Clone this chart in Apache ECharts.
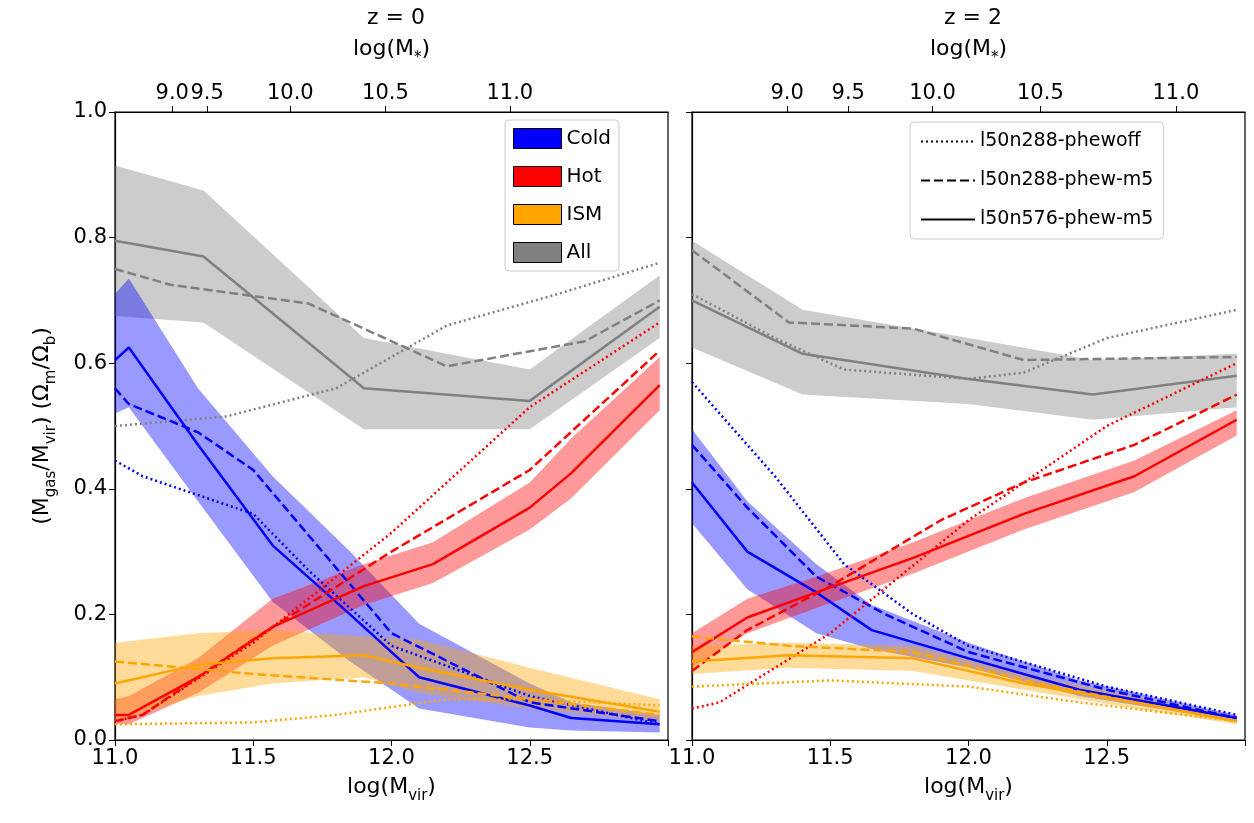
<!DOCTYPE html>
<html>
<head><meta charset="utf-8">
<script src="https://cdn.jsdelivr.net/npm/echarts@6/dist/echarts.min.js"></script>
<style>body{margin:0;background:#fff}#main{width:1254px;height:823px}</style>
</head>
<body>
<div id="main"></div>
<script>
// ---- z = 0 panel ----
var z0_allX = [11.0, 11.32, 11.9, 12.5, 12.97];
var z0_allMid = [0.795, 0.77, 0.56, 0.54, 0.69];
var z0_allLo = [0.675, 0.665, 0.495, 0.495, 0.64];
var z0_allHi = [0.915, 0.875, 0.64, 0.59, 0.74];
var z0_allDash = [[11.0,0.75],[11.2,0.725],[11.7,0.695],[12.2,0.595],[12.7,0.635],[12.97,0.70]];
var z0_allDot = [[11.0,0.50],[11.4,0.515],[11.8,0.56],[12.2,0.66],[12.6,0.71],[12.97,0.76]];

var z0_coldX = [11.0, 11.05, 11.3, 11.57, 11.85, 12.1, 12.5, 12.65, 12.97];
var z0_coldMid = [0.605, 0.625, 0.47, 0.31, 0.20, 0.10, 0.055, 0.035, 0.025];
var z0_coldLo = [0.52, 0.53, 0.38, 0.22, 0.125, 0.05, 0.02, 0.015, 0.012];
var z0_coldHi = [0.71, 0.735, 0.56, 0.42, 0.30, 0.185, 0.09, 0.06, 0.04];
var z0_coldDash = [[11.0,0.56],[11.05,0.535],[11.3,0.49],[11.5,0.43],[12.0,0.17],[12.5,0.06],[12.97,0.03]];
var z0_coldDot = [[11.0,0.445],[11.1,0.42],[11.5,0.36],[11.7,0.27],[12.0,0.15],[12.5,0.07],[12.97,0.025]];

var z0_hotX = [11.0, 11.05, 11.3, 11.57, 11.9, 12.15, 12.5, 12.65, 12.97];
var z0_hotMid = [0.04, 0.04, 0.10, 0.18, 0.245, 0.28, 0.37, 0.425, 0.565];
var z0_hotLo = [0.025, 0.025, 0.075, 0.15, 0.215, 0.25, 0.335, 0.385, 0.525];
var z0_hotHi = [0.065, 0.07, 0.13, 0.225, 0.28, 0.315, 0.41, 0.48, 0.61];
var z0_hotDash = [[11.0,0.03],[11.1,0.04],[11.5,0.16],[12.0,0.30],[12.5,0.43],[12.97,0.62]];
var z0_hotDot = [[11.0,0.03],[11.1,0.04],[11.5,0.155],[12.0,0.33],[12.5,0.53],[12.97,0.665]];

var z0_ismX = [11.0, 11.3, 11.57, 11.9, 12.1, 12.5, 12.97];
var z0_ismMid = [0.09, 0.12, 0.13, 0.135, 0.115, 0.08, 0.045];
var z0_ismLo = [0.03, 0.07, 0.09, 0.10, 0.075, 0.05, 0.03];
var z0_ismHi = [0.155, 0.17, 0.175, 0.165, 0.16, 0.115, 0.065];
var z0_ismDash = [[11.0,0.125],[11.5,0.105],[12.0,0.09],[12.5,0.065],[12.97,0.04]];
var z0_ismDot = [[11.0,0.025],[11.5,0.028],[11.8,0.04],[12.2,0.065],[12.5,0.065],[12.97,0.055]];

// ---- z = 2 panel ----
var z2_allX = [11.0, 11.4, 12.0, 12.45, 12.97];
var z2_allMid = [0.70, 0.615, 0.575, 0.55, 0.58];
var z2_allLo = [0.625, 0.55, 0.535, 0.51, 0.53];
var z2_allHi = [0.795, 0.685, 0.64, 0.605, 0.615];
var z2_allDash = [[11.0,0.78],[11.35,0.665],[11.8,0.655],[12.2,0.605],[12.97,0.61]];
var z2_allDot = [[11.0,0.71],[11.3,0.64],[11.55,0.59],[12.0,0.575],[12.2,0.585],[12.5,0.64],[12.97,0.685]];

var z2_coldX = [11.0, 11.2, 11.45, 11.65, 12.0, 12.4, 12.97];
var z2_coldMid = [0.41, 0.30, 0.235, 0.175, 0.13, 0.08, 0.035];
var z2_coldLo = [0.345, 0.24, 0.17, 0.145, 0.115, 0.07, 0.03];
var z2_coldHi = [0.495, 0.38, 0.28, 0.215, 0.155, 0.095, 0.04];
var z2_coldDash = [[11.0,0.47],[11.2,0.37],[11.45,0.26],[11.7,0.20],[12.0,0.14],[12.5,0.08],[12.97,0.035]];
var z2_coldDot = [[11.0,0.57],[11.3,0.42],[11.55,0.28],[11.8,0.20],[12.0,0.15],[12.5,0.085],[12.97,0.04]];

var z2_hotX = [11.0, 11.2, 11.45, 11.8, 12.2, 12.6, 12.97];
var z2_hotMid = [0.14, 0.195, 0.235, 0.29, 0.36, 0.42, 0.51];
var z2_hotLo = [0.115, 0.17, 0.21, 0.265, 0.335, 0.395, 0.485];
var z2_hotHi = [0.17, 0.225, 0.26, 0.315, 0.385, 0.445, 0.525];
var z2_hotDash = [[11.0,0.11],[11.2,0.175],[11.5,0.245],[11.9,0.35],[12.2,0.41],[12.6,0.47],[12.97,0.55]];
var z2_hotDot = [[11.0,0.05],[11.1,0.06],[11.5,0.17],[12.0,0.35],[12.5,0.50],[12.97,0.60]];

var z2_ismX = [11.0, 11.35, 11.8, 12.2, 12.6, 12.97];
var z2_ismMid = [0.125, 0.135, 0.13, 0.09, 0.06, 0.03];
var z2_ismLo = [0.105, 0.115, 0.11, 0.08, 0.05, 0.025];
var z2_ismHi = [0.15, 0.155, 0.15, 0.105, 0.07, 0.038];
var z2_ismDash = [[11.0,0.165],[11.35,0.15],[11.8,0.14],[12.2,0.095],[12.6,0.06],[12.97,0.03]];
var z2_ismDot = [[11.0,0.085],[11.5,0.095],[12.0,0.085],[12.4,0.06],[12.97,0.03]];

// top axis: log(M*) tick positions in log(Mvir)
var z0_mstarPos = [11.207, 11.333, 11.634, 11.978, 12.428];
var z2_mstarPos = [11.344, 11.565, 11.87, 12.26, 12.75];
var mstarLabels = ['9.0', '9.5', '10.0', '10.5', '11.0'];

var colors = {Cold: '#0000ff', Hot: '#ff0000', ISM: '#ffa500', All: '#808080'};
var runNames = ['l50n288-phewoff', 'l50n288-phew-m5', 'l50n576-phew-m5'];

var series = [];
function pairs(xs, ys) { return xs.map(function (x, i) { return [x, ys[i]]; }); }
function addGroup(panel, name, xs, mid, lo, hi, dash, dot) {
    var c = colors[name];
    // shaded band: polygon through the upper then lower bounds
    var rows = xs.map(function (x, i) { return [x, lo[i], hi[i]]; });
    series.push({type: 'custom', name: name, xAxisIndex: panel, yAxisIndex: panel,
        itemStyle: {color: c}, silent: true, z: 1, data: [0],
        renderItem: function (params, api) {
            var pts = [];
            rows.forEach(function (r) { pts.push(api.coord([r[0], r[2]])); });
            for (var i = rows.length - 1; i >= 0; i--) pts.push(api.coord([rows[i][0], rows[i][1]]));
            return {type: 'polygon', shape: {points: pts}, style: {fill: c, opacity: 0.4}};
        }});
    series.push({type: 'line', xAxisIndex: panel, yAxisIndex: panel, symbol: 'none', data: pairs(xs, mid),
        lineStyle: {color: c, width: 2.5}, z: 3});
    series.push({type: 'line', xAxisIndex: panel, yAxisIndex: panel, symbol: 'none', data: dash,
        lineStyle: {color: c, width: 2.5, type: [9, 4]}, z: 3});
    series.push({type: 'line', xAxisIndex: panel, yAxisIndex: panel, symbol: 'none', data: dot,
        lineStyle: {color: c, width: 2.5, type: [2, 3]}, z: 3});
}
addGroup(0, 'All', z0_allX, z0_allMid, z0_allLo, z0_allHi, z0_allDash, z0_allDot);
addGroup(0, 'Cold', z0_coldX, z0_coldMid, z0_coldLo, z0_coldHi, z0_coldDash, z0_coldDot);
addGroup(0, 'Hot', z0_hotX, z0_hotMid, z0_hotLo, z0_hotHi, z0_hotDash, z0_hotDot);
addGroup(0, 'ISM', z0_ismX, z0_ismMid, z0_ismLo, z0_ismHi, z0_ismDash, z0_ismDot);
addGroup(1, 'All', z2_allX, z2_allMid, z2_allLo, z2_allHi, z2_allDash, z2_allDot);
addGroup(1, 'Cold', z2_coldX, z2_coldMid, z2_coldLo, z2_coldHi, z2_coldDash, z2_coldDot);
addGroup(1, 'Hot', z2_hotX, z2_hotMid, z2_hotLo, z2_hotHi, z2_hotDash, z2_hotDot);
addGroup(1, 'ISM', z2_ismX, z2_ismMid, z2_ismLo, z2_ismHi, z2_ismDash, z2_ismDot);
// legend-only line styles
var lineTypes = [[2, 3], [9, 4], 'solid'];
runNames.forEach(function (n, i) {
    series.push({type: 'line', name: n, xAxisIndex: 1, yAxisIndex: 1, symbol: 'none', data: [],
        itemStyle: {color: '#000'}, lineStyle: {color: '#000', width: 1.5, type: lineTypes[i]}});
});

var font = 'DejaVu Sans';
var rich = {sub: {fontSize: 15, verticalAlign: 'bottom', padding: [0, 0, -6, 0], fontFamily: font, color: '#000'},
    n: {fontSize: 22, fontFamily: font, color: '#000'}};
function bottomX(grid) {
    return {type: 'value', gridIndex: grid, min: 11, max: 13, interval: 0.5, position: 'bottom',
        name: '{n|log(M}{sub|vir}{n|)}', nameLocation: 'middle', nameGap: 36,
        nameTextStyle: {rich: rich},
        axisLine: {lineStyle: {color: '#000', width: 1.2}},
        axisTick: {inside: false, length: 6, lineStyle: {color: '#000'}},
        axisLabel: {fontSize: 21, color: '#000', fontFamily: font,
            formatter: function (v) { return v >= 13 ? '' : v.toFixed(1); }},
        splitLine: {show: false}};
}
function topX(grid, pos) {
    return {type: 'value', gridIndex: grid, min: 11, max: 13, position: 'top',
        name: '{n|log(M}{sub|*}{n|)}', nameLocation: 'middle', nameGap: 52,
        nameTextStyle: {rich: rich},
        axisLine: {lineStyle: {color: '#000', width: 1.2}},
        axisTick: {customValues: pos, length: 6, lineStyle: {color: '#000'}},
        axisLabel: {customValues: pos, fontSize: 21, color: '#000', fontFamily: font,
            formatter: function (v) { var i = pos.indexOf(v); return i >= 0 ? mstarLabels[i] : ''; }},
        splitLine: {show: false}};
}
function yAx(grid, labels) {
    var a = {type: 'value', gridIndex: grid, min: 0, max: 1, interval: 0.2,
        axisLine: {show: true, lineStyle: {color: '#000', width: 1.2}},
        axisTick: {show: true, length: 6, lineStyle: {color: '#000'}},
        axisLabel: {show: labels, fontSize: 21, color: '#000', fontFamily: font,
            formatter: function (v) { return v.toFixed(1); }},
        splitLine: {show: false}};
    if (labels) {
        a.name = '{n|(M}{sub|gas}{n|/M}{sub|vir}{n|) (Ω}{sub|m}{n|/Ω}{sub|b}{n|)}';
        a.nameLocation = 'middle';
        a.nameGap = 62;
        a.nameTextStyle = {rich: rich};
    }
    return a;
}

var option = {
    animation: false,
    title: [
        {text: 'z = 0', left: 391, top: 2, textAlign: 'center', textStyle: {fontSize: 22, fontWeight: 'normal', fontFamily: font, color: '#000'}},
        {text: 'z = 2', left: 968, top: 2, textAlign: 'center', textStyle: {fontSize: 22, fontWeight: 'normal', fontFamily: font, color: '#000'}}
    ],
    grid: [
        {left: 115, top: 112, width: 553, height: 628, show: true, borderColor: '#000', borderWidth: 1.2, backgroundColor: 'transparent'},
        {left: 692, top: 112, width: 553, height: 628, show: true, borderColor: '#000', borderWidth: 1.2, backgroundColor: 'transparent'}
    ],
    xAxis: [bottomX(0), bottomX(1), topX(0, z0_mstarPos), topX(1, z2_mstarPos)],
    yAxis: [yAx(0, true), yAx(1, false)],
    legend: [
        {data: ['Cold', 'Hot', 'ISM', 'All'], orient: 'vertical', left: 505, top: 120,
            icon: 'rect', itemWidth: 48, itemHeight: 20, itemGap: 17,
            itemStyle: {borderColor: '#000', borderWidth: 1, opacity: 1},
            textStyle: {fontSize: 20, fontFamily: font, color: '#000'},
            backgroundColor: 'rgba(255,255,255,0.85)', borderColor: '#ccc', borderWidth: 1, borderRadius: 4, padding: [8, 8]},
        {data: runNames, orient: 'vertical', left: 910, top: 122,
            itemWidth: 54, itemHeight: 14, itemGap: 20,
            itemStyle: {opacity: 0},
            textStyle: {fontSize: 19, fontFamily: font, color: '#000'},
            backgroundColor: 'rgba(255,255,255,0.85)', borderColor: '#ccc', borderWidth: 1, borderRadius: 4, padding: [10, 10]}
    ],
    series: series
};
var chart = echarts.init(document.getElementById('main'));
chart.setOption(option);
</script>
</body>
</html>
